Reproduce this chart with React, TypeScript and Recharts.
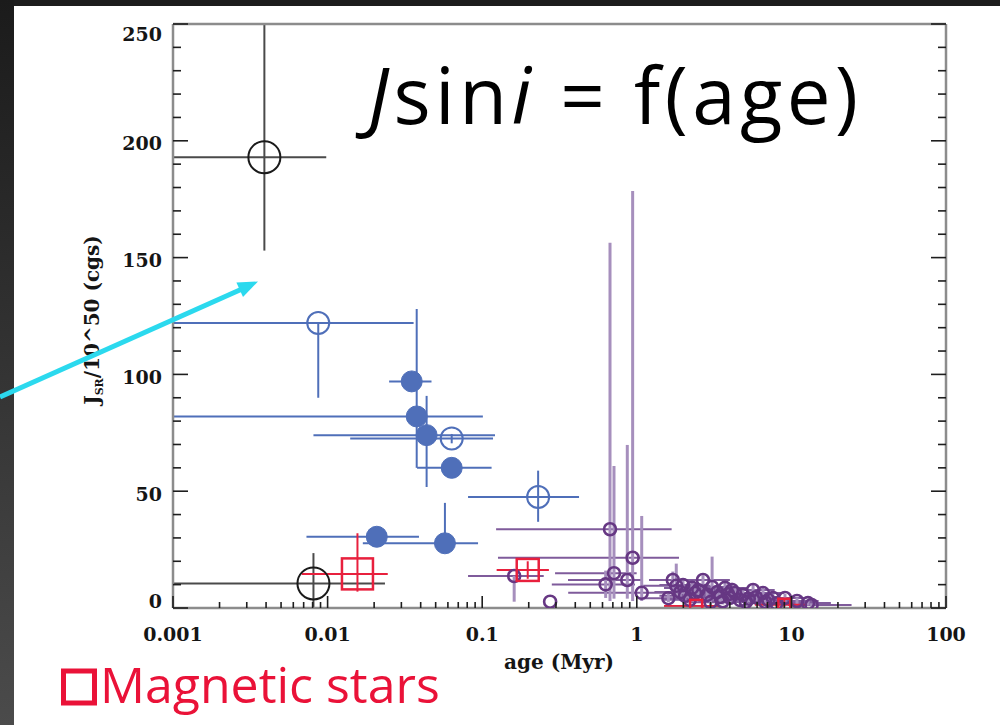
import React from 'react';
import { ScatterChart, Scatter, XAxis, YAxis, ErrorBar } from 'recharts';

type Pt = { x: number; y: number; xLo: number; xHi: number; yLo: number; yHi: number };

// ---- axis ticks ----
const xDomain = [0.001, 100];
const yDomain = [0, 250];
const xMajorTicks = [0.001, 0.01, 0.1, 1, 10, 100];
const xTickLabels = ['0.001', '0.01', '0.1', '1', '10', '100'];
const xMinorMultipliers = [2, 3, 4, 5, 6, 7, 8, 9];
const yTicks = [0, 10, 20, 30, 40, 50, 60, 70, 80, 90, 100, 110, 120, 130, 140, 150, 160, 170, 180, 190, 200, 210, 220, 230, 240, 250];
const yMajorTicks = [0, 50, 100, 150, 200, 250];
const yTickLabels = ['0', '50', '100', '150', '200', '250'];

// ---- data (age in Myr, Jsini / 1e50 cgs) ----
const blackOpen: Pt[] = [
  { x: 0.0039, y: 193, xLo: 0.0005, xHi: 0.0098, yLo: 153, yHi: 275 },
  { x: 0.0081, y: 10.5, xLo: 0.0005, xHi: 0.0235, yLo: -6, yHi: 23.5 },
];

const blueOpen: Pt[] = [
  { x: 0.0087, y: 122, xLo: 0.0005, xHi: 0.036, yLo: 90, yHi: 122 },
  { x: 0.0635, y: 72.6, xLo: 0.014, xHi: 0.1175, yLo: 70.5, yHi: 74.5 },
  { x: 0.23, y: 47.5, xLo: 0.081, xHi: 0.423, yLo: 36.9, yHi: 58.8 },
];

const blueFilled: Pt[] = [
  { x: 0.035, y: 97, xLo: 0.025, xHi: 0.047, yLo: 97, yHi: 97 },
  { x: 0.0377, y: 82, xLo: 0.0005, xHi: 0.101, yLo: 60, yHi: 128 },
  { x: 0.0437, y: 74, xLo: 0.0081, xHi: 0.121, yLo: 51.8, yHi: 90.8 },
  { x: 0.0635, y: 60, xLo: 0.0379, xHi: 0.115, yLo: 60, yHi: 60 },
  { x: 0.0208, y: 30.5, xLo: 0.0073, xHi: 0.039, yLo: 30.5, yHi: 30.5 },
  { x: 0.0574, y: 27.7, xLo: 0.0169, xHi: 0.094, yLo: 27.7, yHi: 45 },
];

const redLarge: Pt[] = [
  { x: 0.0156, y: 14.6, xLo: 0.0068, xHi: 0.0245, yLo: 7, yHi: 32 },
];
const redMedium: Pt[] = [
  { x: 0.197, y: 16.3, xLo: 0.124, xHi: 0.27, yLo: 12.5, yHi: 20 },
];
const redSmall: Pt[] = [
  { x: 2.42, y: 0.9, xLo: 1.5, xHi: 3.45, yLo: 0.9, yHi: 0.9 },
  { x: 9.0, y: 1.4, xLo: 5.8, xHi: 12.6, yLo: 0, yHi: 4 },
];

const purple: Pt[] = [
  { x: 0.671, y: 33.7, xLo: 0.123, xHi: 1.68, yLo: 3, yHi: 156.4 },
  { x: 0.94, y: 21.5, xLo: 0.1265, xHi: 1.875, yLo: 3, yHi: 178.5 },
  { x: 0.712, y: 14.9, xLo: 0.296, xHi: 0.998, yLo: 4, yHi: 60.8 },
  { x: 0.868, y: 12, xLo: 0.359, xHi: 1.076, yLo: 4, yHi: 69.8 },
  { x: 0.629, y: 10.1, xLo: 0.282, xHi: 0.973, yLo: 4.3, yHi: 16 },
  { x: 1.076, y: 6.5, xLo: 0.36, xHi: 2.2, yLo: 3, yHi: 39.4 },
  { x: 0.161, y: 13.7, xLo: 0.081, xHi: 0.25, yLo: 2.7, yHi: 13.7 },
  { x: 0.275, y: 2.7, xLo: 0.275, xHi: 0.275, yLo: 2.7, yHi: 2.7 },
  { x: 1.71, y: 12.0, xLo: 1.2, xHi: 2.6, yLo: 8, yHi: 15.6 },
  { x: 1.8, y: 9.5, xLo: 1.1, xHi: 3.0, yLo: 5, yHi: 19 },
  { x: 2.68, y: 12.0, xLo: 1.7, xHi: 4.0, yLo: 8, yHi: 14 },
  { x: 1.99, y: 9.8, xLo: 1.4, xHi: 2.9, yLo: 6, yHi: 12 },
  { x: 2.28, y: 8.6, xLo: 1.5, xHi: 3.3, yLo: 6, yHi: 11 },
  { x: 3.07, y: 9.0, xLo: 2.0, xHi: 4.4, yLo: 4, yHi: 22 },
  { x: 3.31, y: 6.8, xLo: 2.3, xHi: 4.6, yLo: 4, yHi: 9 },
  { x: 3.72, y: 8.6, xLo: 2.6, xHi: 5.2, yLo: 6, yHi: 11 },
  { x: 4.13, y: 7.7, xLo: 2.9, xHi: 5.8, yLo: 5, yHi: 10.8 },
  { x: 1.91, y: 6.8, xLo: 1.3, xHi: 2.7, yLo: 4, yHi: 9 },
  { x: 2.38, y: 6.4, xLo: 1.6, xHi: 3.4, yLo: 4, yHi: 9 },
  { x: 2.85, y: 5.6, xLo: 1.9, xHi: 4.1, yLo: 3, yHi: 8 },
  { x: 3.46, y: 4.7, xLo: 2.4, xHi: 5.0, yLo: 2.5, yHi: 7 },
  { x: 4.01, y: 4.3, xLo: 2.8, xHi: 5.7, yLo: 2, yHi: 6.5 },
  { x: 5.65, y: 7.7, xLo: 4.0, xHi: 7.8, yLo: 5, yHi: 10 },
  { x: 6.55, y: 6.4, xLo: 4.6, xHi: 9.0, yLo: 4, yHi: 9 },
  { x: 4.86, y: 5.6, xLo: 3.4, xHi: 6.9, yLo: 3.5, yHi: 8 },
  { x: 4.32, y: 6.4, xLo: 3.0, xHi: 6.1, yLo: 4, yHi: 9 },
  { x: 7.6, y: 4.3, xLo: 5.4, xHi: 10.5, yLo: 2.5, yHi: 6 },
  { x: 9.09, y: 4.3, xLo: 6.5, xHi: 12.5, yLo: 2.5, yHi: 6 },
  { x: 10.87, y: 3.0, xLo: 7.8, xHi: 15.0, yLo: 1.5, yHi: 4.5 },
  { x: 12.8, y: 2.1, xLo: 9.0, xHi: 18.0, yLo: 1, yHi: 3.5 },
  { x: 6.75, y: 2.6, xLo: 4.8, xHi: 9.4, yLo: 1, yHi: 4 },
  { x: 5.08, y: 2.6, xLo: 3.6, xHi: 7.1, yLo: 1, yHi: 4 },
  { x: 4.66, y: 3.4, xLo: 3.3, xHi: 6.5, yLo: 1.5, yHi: 5 },
  { x: 13.5, y: 1.3, xLo: 9.5, xHi: 24.5, yLo: 0.5, yHi: 2 },
  { x: 3.0, y: 2.5, xLo: 2.1, xHi: 4.2, yLo: 1, yHi: 4 },
  { x: 2.2, y: 3.5, xLo: 1.5, xHi: 3.1, yLo: 2, yHi: 5 },
  { x: 1.6, y: 4.2, xLo: 1.1, xHi: 2.3, yLo: 2.5, yHi: 6 },
  { x: 8.0, y: 2.0, xLo: 5.7, xHi: 11.0, yLo: 1, yHi: 3 },
  { x: 5.9, y: 4.6, xLo: 4.2, xHi: 8.2, yLo: 3, yHi: 6 },
  { x: 2.5, y: 7.6, xLo: 1.7, xHi: 3.6, yLo: 5, yHi: 10 },
  { x: 3.9, y: 5.9, xLo: 2.7, xHi: 5.5, yLo: 4, yHi: 8 },
  { x: 5.3, y: 4.0, xLo: 3.7, xHi: 7.4, yLo: 2.5, yHi: 5.5 },
  { x: 7.1, y: 3.4, xLo: 5.0, xHi: 9.9, yLo: 2, yHi: 5 },
  { x: 2.05, y: 5.2, xLo: 1.4, xHi: 2.9, yLo: 3.5, yHi: 7 },
  { x: 3.6, y: 2.9, xLo: 2.5, xHi: 5.1, yLo: 1.5, yHi: 4.5 },
];

// ---- helpers ----
// Error bounds are clipped to the plotted axis range, as in the reference figure.
const toRows = (pts: Pt[]) =>
  pts.map((p) => {
    const xl = Math.max(p.xLo, xDomain[0]);
    const xh = Math.min(p.xHi, xDomain[1]);
    const yl = Math.max(p.yLo, yDomain[0]);
    const yh = Math.min(p.yHi, yDomain[1]);
    return { x: p.x, y: p.y, ex: [p.x - xl, xh - p.x], ey: [p.y - yl, yh - p.y] };
  });

const xMinorTicks: number[] = [];
xMajorTicks.slice(0, -1).forEach((d) => xMinorMultipliers.forEach((m) => xMinorTicks.push(+(d * m).toPrecision(3))));
const xAllTicks = [...xMajorTicks, ...xMinorTicks];

const majorIndexX = (v: number) => xMajorTicks.findIndex((t) => Math.abs(t - v) / t < 1e-6);
const majorIndexY = (v: number) => yMajorTicks.indexOf(v);

const TICK_COLOR = '#1e1e1e';
const LABEL_FONT = '"DejaVu Serif", serif';

const BottomTick = (props: any) => {
  const { x, y, payload } = props;
  const i = majorIndexX(payload.value);
  return (
    <g>
      <line x1={x} x2={x} y1={y} y2={y - (i >= 0 ? 12 : 6)} stroke={TICK_COLOR} strokeWidth={1.6} />
      {i >= 0 && (
        <text x={x} y={y + 33} textAnchor="middle" fontFamily={LABEL_FONT} fontWeight="bold" fontSize={19} fill="#151515">
          {xTickLabels[i]}
        </text>
      )}
    </g>
  );
};

const TopTick = (props: any) => {
  const { x, y, payload } = props;
  const i = majorIndexX(payload.value);
  return <line x1={x} x2={x} y1={y} y2={y + (i >= 0 ? 12 : 6)} stroke={TICK_COLOR} strokeWidth={1.6} />;
};

const LeftTick = (props: any) => {
  const { x, y, payload } = props;
  const i = majorIndexY(payload.value);
  const cy = Math.min(Math.max(y + 2, 33), 600);
  return (
    <g>
      <line x1={x} x2={x + (i >= 0 ? 15 : 8)} y1={y} y2={y} stroke={TICK_COLOR} strokeWidth={1.6} />
      {i >= 0 && (
        <text x={x - 11} y={cy + 7.5} textAnchor="end" fontFamily={LABEL_FONT} fontWeight="bold" fontSize={19} fill="#151515">
          {yTickLabels[i]}
        </text>
      )}
    </g>
  );
};

const RightTick = (props: any) => {
  const { x, y, payload } = props;
  const i = majorIndexY(payload.value);
  return <line x1={x} x2={x - (i >= 0 ? 15 : 8)} y1={y} y2={y} stroke={TICK_COLOR} strokeWidth={1.6} />;
};

const circleShape = (r: number, stroke: string, fill: string, sw: number) => (props: any) =>
  <circle cx={props.cx} cy={props.cy} r={r} fill={fill} stroke={stroke} strokeWidth={sw} />;

const squareShape = (s: number, stroke: string, sw: number) => (props: any) =>
  <rect x={props.cx - s / 2} y={props.cy - s / 2} width={s} height={s} fill="none" stroke={stroke} strokeWidth={sw} />;

const AXIS_LINE = { stroke: '#8c8c8c', strokeWidth: 2.5 };

const BLUE = '#4f6fb9';
const RED = '#e8203d';
const PURPLE = '#663783';

export default function App() {
  return (
    <div style={{ position: 'absolute', left: 0, top: 0, width: 1000, height: 725, background: '#ffffff', overflow: 'hidden' }}>
      <div style={{ position: 'absolute', left: 0, top: 0, width: 1000, height: 6, background: '#1d1d1d' }} />
      <div
        style={{
          position: 'absolute',
          left: 0,
          top: 0,
          width: 14,
          height: 725,
          background: 'linear-gradient(#1b1b1b, #4b4b4b)',
        }}
      />
      <div style={{ position: 'absolute', left: 0, top: 0 }}>
        <ScatterChart width={1000} height={725} margin={{ top: 23, right: 53, bottom: 116, left: 172 }}>
          <XAxis
            dataKey="x"
            type="number"
            scale="log"
            domain={xDomain}
            allowDataOverflow
            ticks={xAllTicks}
            interval={0}
            height={1}
            tickLine={false}
            tickSize={0}
            tickMargin={0}
            axisLine={AXIS_LINE}
            tick={<BottomTick />}
          />
          <XAxis
            xAxisId="top"
            orientation="top"
            type="number"
            scale="log"
            domain={xDomain}
            allowDataOverflow
            ticks={xAllTicks}
            interval={0}
            height={1}
            tickLine={false}
            tickSize={0}
            tickMargin={0}
            axisLine={AXIS_LINE}
            tick={<TopTick />}
          />
          <YAxis
            dataKey="y"
            type="number"
            domain={yDomain}
            allowDataOverflow
            ticks={yTicks}
            interval={0}
            width={1}
            tickLine={false}
            tickSize={0}
            tickMargin={0}
            axisLine={AXIS_LINE}
            tick={<LeftTick />}
          />
          <YAxis
            yAxisId="right"
            orientation="right"
            type="number"
            domain={yDomain}
            allowDataOverflow
            ticks={yTicks}
            interval={0}
            width={1}
            tickLine={false}
            tickSize={0}
            tickMargin={0}
            axisLine={AXIS_LINE}
            tick={<RightTick />}
          />

          <Scatter data={toRows(purple)} isAnimationActive={false} shape={circleShape(6, PURPLE, 'none', 2.6)}>
            <ErrorBar dataKey="ex" direction="x" width={0} stroke="#7f5b9b" strokeWidth={2} />
            <ErrorBar dataKey="ey" direction="y" width={0} stroke="#a68fbd" strokeWidth={3} />
          </Scatter>

          <Scatter data={toRows(blueFilled)} isAnimationActive={false} shape={circleShape(10.5, BLUE, BLUE, 1)}>
            <ErrorBar dataKey="ex" direction="x" width={0} stroke={BLUE} strokeWidth={2} />
            <ErrorBar dataKey="ey" direction="y" width={0} stroke={BLUE} strokeWidth={2} />
          </Scatter>

          <Scatter data={toRows(blueOpen)} isAnimationActive={false} shape={circleShape(11, BLUE, 'none', 2)}>
            <ErrorBar dataKey="ex" direction="x" width={0} stroke={BLUE} strokeWidth={2} />
            <ErrorBar dataKey="ey" direction="y" width={0} stroke={BLUE} strokeWidth={2} />
          </Scatter>

          <Scatter data={toRows(blackOpen)} isAnimationActive={false} shape={circleShape(16, '#1a1a1a', 'none', 2)}>
            <ErrorBar dataKey="ex" direction="x" width={0} stroke="#4a4a4a" strokeWidth={2} />
            <ErrorBar dataKey="ey" direction="y" width={0} stroke="#4a4a4a" strokeWidth={2} />
          </Scatter>

          <Scatter data={toRows(redLarge)} isAnimationActive={false} shape={squareShape(31, RED, 2.5)}>
            <ErrorBar dataKey="ex" direction="x" width={0} stroke={RED} strokeWidth={2} />
            <ErrorBar dataKey="ey" direction="y" width={0} stroke={RED} strokeWidth={2} />
          </Scatter>
          <Scatter data={toRows(redMedium)} isAnimationActive={false} shape={squareShape(22, RED, 2.5)}>
            <ErrorBar dataKey="ex" direction="x" width={0} stroke={RED} strokeWidth={2} />
            <ErrorBar dataKey="ey" direction="y" width={0} stroke={RED} strokeWidth={2} />
          </Scatter>
          <Scatter data={toRows(redSmall)} isAnimationActive={false} shape={squareShape(12, RED, 2.5)}>
            <ErrorBar dataKey="ex" direction="x" width={0} stroke={RED} strokeWidth={2} />
            <ErrorBar dataKey="ey" direction="y" width={0} stroke={RED} strokeWidth={2} />
          </Scatter>
        </ScatterChart>
      </div>

      <svg
        width={1000}
        height={725}
        style={{ position: 'absolute', left: 0, top: 0, pointerEvents: 'none' }}
      >
        <text
          x={368}
          y={124}
          fontFamily='"Open Sans", sans-serif'
          fontSize={78}
          fill="#000"
          textLength={490}
          lengthAdjust="spacing"
        >
          <tspan fontStyle="italic">J</tspan>sin<tspan fontStyle="italic">i</tspan> = f(age)
        </text>

        <text transform="translate(99,320) rotate(-90)" textAnchor="middle" fontFamily={LABEL_FONT} fontWeight="bold" fontSize={20} fill="#151515">
          J<tspan fontSize={11} dy={4}>SR</tspan>
          <tspan dy={-4}>/10^50 (cgs)</tspan>
        </text>

        <text x={559} y={669} textAnchor="middle" fontFamily={LABEL_FONT} fontWeight="bold" fontSize={20} fill="#151515">
          age (Myr)
        </text>

        <rect x={63.5} y={671} width={31} height={32} fill="none" stroke="#ea1238" strokeWidth={5} />
        <text x={100} y={703} fontFamily='"Open Sans", sans-serif' fontSize={50} fill="#ea1238">
          Magnetic stars
        </text>

        <line x1={0} y1={397} x2={242} y2={289} stroke="#2bd9ee" strokeWidth={5} />
        <polygon points="258,281.5 243,297 236.4,282.4" fill="#2bd9ee" />
      </svg>
    </div>
  );
}
